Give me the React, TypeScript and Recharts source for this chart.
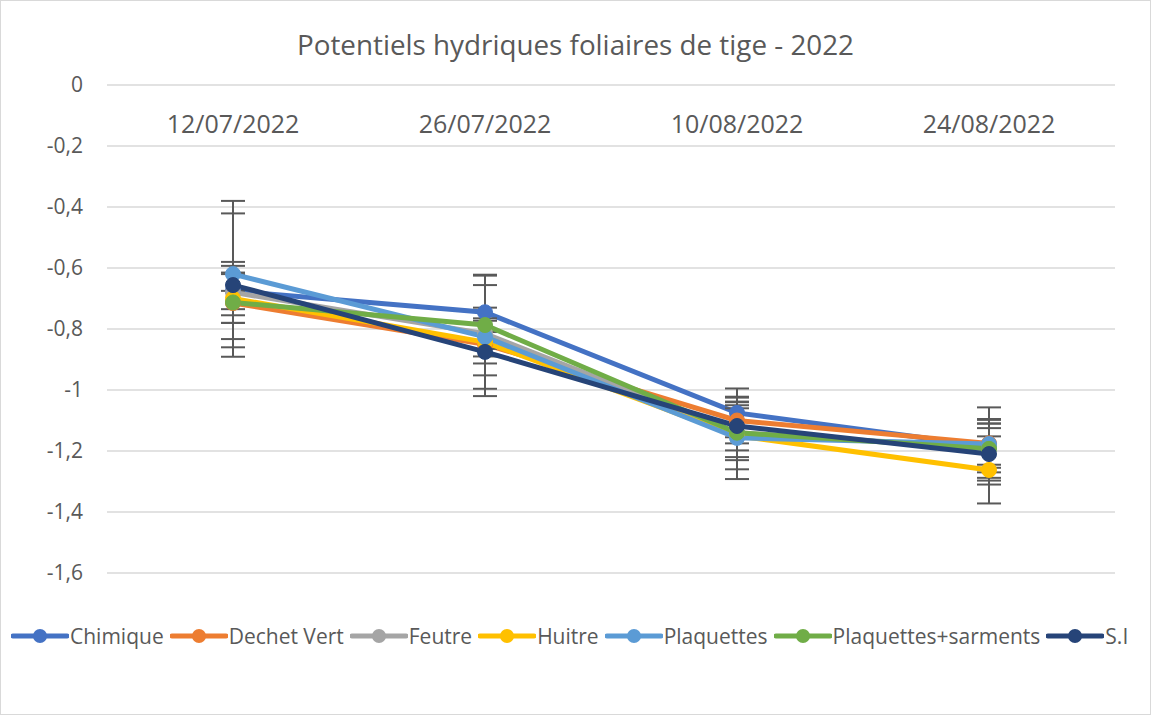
import { LineChart, Line, XAxis, YAxis, CartesianGrid, ErrorBar } from 'recharts'

const DATES = ['12/07/2022', '26/07/2022', '10/08/2022', '24/08/2022']

const CHIMIQUE = [-0.675, -0.745, -1.075, -1.185]
const DECHET_VERT = [-0.715, -0.85, -1.1, -1.175]
const FEUTRE = [-0.68, -0.815, -1.14, -1.19]
const HUITRE = [-0.7, -0.843, -1.15, -1.262]
const PLAQUETTES = [-0.62, -0.826, -1.157, -1.177]
const PLAQ_SARMENTS = [-0.713, -0.787, -1.14, -1.193]
const SI = [-0.656, -0.875, -1.118, -1.21]

// écarts-types (barres d'erreur)
const CHIMIQUE_ERR = [0.06, 0.12, 0.08, 0.06]
const DECHET_VERT_ERR = [0.04, 0.04, 0.075, 0.08]
const FEUTRE_ERR = [0.1, 0.05, 0.09, 0.08]
const HUITRE_ERR = [0.08, 0.07, 0.11, 0.11]
const PLAQUETTES_ERR = [0.24, 0.17, 0.135, 0.12]
const PLAQ_SARMENTS_ERR = [0.12, 0.165, 0.08, 0.095]
const SI_ERR = [0.235, 0.145, 0.08, 0.1]

const Y_TICKS = [0, -0.2, -0.4, -0.6, -0.8, -1, -1.2, -1.4, -1.6]

const SERIES = [
  { key: 'chimique', name: 'Chimique', color: '#4472C4', values: CHIMIQUE, err: CHIMIQUE_ERR },
  { key: 'dechetVert', name: 'Dechet Vert', color: '#ED7D31', values: DECHET_VERT, err: DECHET_VERT_ERR },
  { key: 'feutre', name: 'Feutre', color: '#A5A5A5', values: FEUTRE, err: FEUTRE_ERR },
  { key: 'huitre', name: 'Huitre', color: '#FFC000', values: HUITRE, err: HUITRE_ERR },
  { key: 'plaquettes', name: 'Plaquettes', color: '#5B9BD5', values: PLAQUETTES, err: PLAQUETTES_ERR },
  { key: 'plaqSarments', name: 'Plaquettes+sarments', color: '#70AD47', values: PLAQ_SARMENTS, err: PLAQ_SARMENTS_ERR },
  { key: 'si', name: 'S.I', color: '#264478', values: SI, err: SI_ERR },
]

const FONT = '"Open Sans", "Noto Sans", sans-serif'
const TEXT_COLOR = '#595959'

const chartData = DATES.map((date, i) => {
  const point: Record<string, number | string> = { date }
  SERIES.forEach((s) => {
    point[s.key] = s.values[i]
    point[s.key + 'Err'] = s.err[i]
  })
  return point
})

const formatTick = (v: number) => String(Math.round(v * 10) / 10).replace('.', ',')

function DateTick(props: any) {
  const { x, y, payload } = props
  return (
    <text x={x} y={y + 56} textAnchor="middle" fontSize={25} fill={TEXT_COLOR} fontFamily={FONT}>
      {payload.value}
    </text>
  )
}

export default function App() {
  return (
    <div
      style={{
        position: 'absolute',
        left: 0,
        top: 0,
        width: 1149,
        height: 713,
        border: '1px solid #d9d9d9',
        background: '#fff',
        fontFamily: FONT,
      }}
    >
      <div
        style={{
          position: 'absolute',
          top: 24,
          width: '100%',
          textAlign: 'center',
          fontSize: 27.8,
          color: TEXT_COLOR,
        }}
      >
        Potentiels hydriques foliaires de tige - 2022
      </div>

      <LineChart
        width={1149}
        height={600}
        data={chartData}
        margin={{ top: 54, right: 35, left: 0, bottom: 28 }}
      >
        <CartesianGrid vertical={false} stroke="#d9d9d9" strokeWidth={1.5} />
        <XAxis
          dataKey="date"
          orientation="top"
          height={30}
          padding={{ left: 126, right: 126 }}
          axisLine={false}
          tickLine={false}
          tick={<DateTick />}
          interval={0}
        />
        <YAxis
          domain={[-1.6, 0]}
          ticks={Y_TICKS}
          width={106}
          axisLine={false}
          tickLine={false}
          tickMargin={18}
          tickFormatter={formatTick}
          tick={{ fill: TEXT_COLOR, fontSize: 21, fontFamily: FONT }}
          interval={0}
        />
        {SERIES.map((s) => (
          <Line
            key={s.key}
            dataKey={s.key}
            name={s.name}
            stroke={s.color}
            strokeWidth={5}
            dot={{ r: 7.5, fill: s.color, stroke: s.color, strokeWidth: 1 }}
            activeDot={false}
            isAnimationActive={false}
          >
            <ErrorBar dataKey={s.key + 'Err'} direction="y" width={12} strokeWidth={2} stroke="#595959" />
          </Line>
        ))}
      </LineChart>

      <div
        style={{
          position: 'absolute',
          top: 621,
          left: 10,
          display: 'flex',
          alignItems: 'center',
          fontSize: 21,
          color: TEXT_COLOR,
          whiteSpace: 'nowrap',
        }}
      >
        {SERIES.map((s) => (
          <div key={s.key} style={{ display: 'flex', alignItems: 'center', marginRight: 6 }}>
            <svg width={58} height={28}>
              <line x1={2} y1={14} x2={56} y2={14} stroke={s.color} strokeWidth={5} strokeLinecap="round" />
              <circle cx={29} cy={14} r={7} fill={s.color} />
            </svg>
            <span style={{ marginLeft: 1 }}>{s.name}</span>
          </div>
        ))}
      </div>
    </div>
  )
}
